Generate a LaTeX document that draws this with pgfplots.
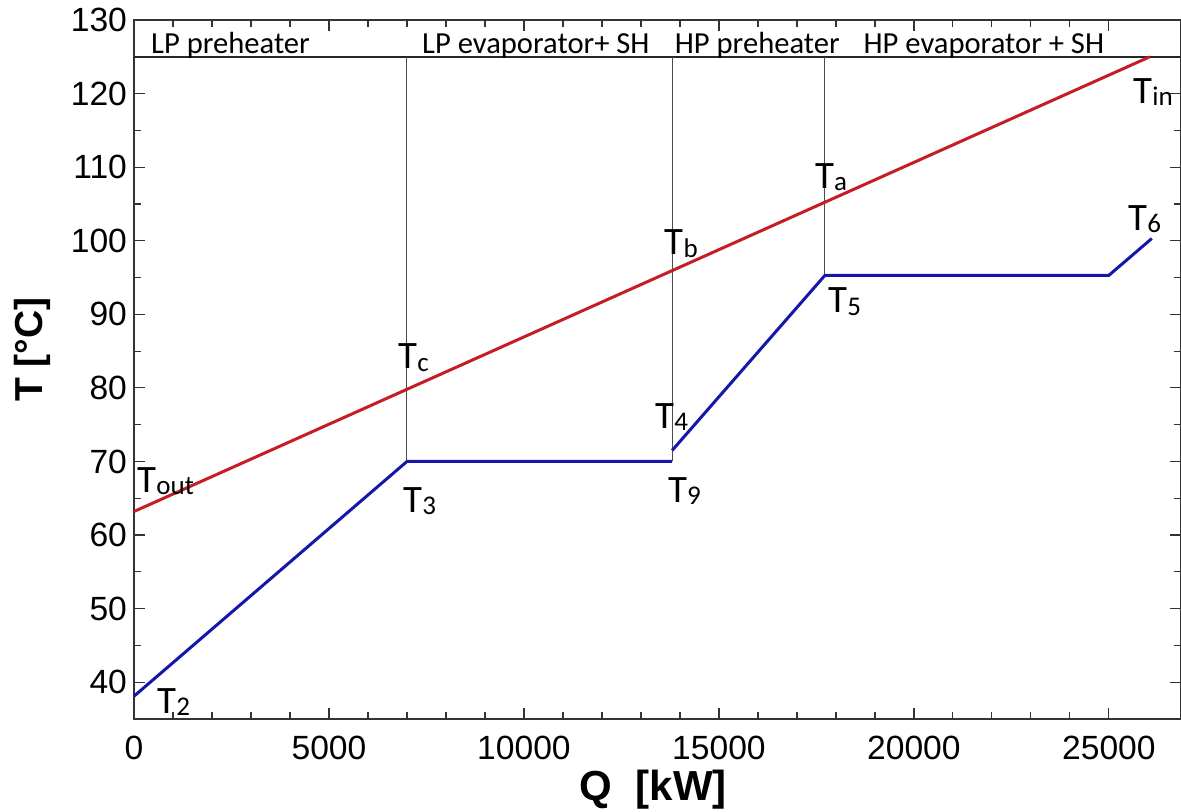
\documentclass[border=0pt]{standalone}
\usepackage{pgfplots}
\pgfplotsset{compat=1.18}
\usepackage{fontspec}
\setmainfont{Liberation Sans}
\newfontfamily\carl{Carlito}
\definecolor{redl}{RGB}{196,30,36}
\definecolor{bluel}{RGB}{22,22,170}
\newcommand\Tl[1]{{\carl\fontsize{19.4}{20}\selectfont T\raisebox{-0.06em}{\fontsize{13.5}{15}\selectfont #1}}}
\begin{document}
\begin{tikzpicture}
\begin{axis}[name=ax, scale only axis, width=523.5pt, height=349.5pt,
  xmin=0, xmax=26850, ymin=35, ymax=130,
  xtick={0,5000,...,25000}, ytick={40,50,...,130},
  minor x tick num=4, minor y tick num=1,
  axis line style={line width=0.75pt, black!80},
  major tick length=5.5pt, minor tick length=3.5pt,
  every tick/.style={black!80, line width=0.6pt},
  tick label style={font=\fontsize{16.8}{18}\selectfont},
  /pgf/number format/assume math mode=true,
  scaled x ticks=false,
  x tick label style={/pgf/number format/1000 sep={}, yshift=-5pt},
  xlabel={Q\ \ [kW]}, ylabel={T [°C]},
  label style={font=\fontsize{21}{22}\selectfont\bfseries},
  xlabel style={at={(axis description cs:0.496,-0.1159)}, anchor=base},
  ylabel style={at={(axis description cs:-0.0974,0.5286)}, anchor=center, font=\fontsize{19.5}{22}\selectfont\bfseries},
  clip=false,
]
% section boundaries
\addplot[black!85, line width=1pt] coordinates {(0,125) (26850,125)};
\addplot[black!70, line width=0.5pt] coordinates {(7000,125) (7000,70)};
\addplot[black!70, line width=0.5pt] coordinates {(13800,125) (13800,70)};
\addplot[black!70, line width=0.5pt] coordinates {(17720,125) (17720,95.3)};
% hot stream
\addplot[redl, line width=1.5pt] coordinates {(0,63.2) (26050,125)};
% cold stream
\addplot[bluel, line width=1.5pt] coordinates {(0,38.1) (7000,70) (13800,70)};
\addplot[bluel, line width=1.5pt] coordinates {(13800,71.5) (17720,95.3) (25000,95.3) (26100,100.3)};
% section labels
\begin{scope}[every node/.style={anchor=base west, inner sep=0pt, font=\carl\fontsize{15.3}{16}\selectfont}]
\node at (axis cs:430,125.44) {LP preheater};
\node at (axis cs:7380,125.44) {LP evaporator+ SH};
\node at (axis cs:13860,125.44) {HP preheater};
\node at (axis cs:18700,125.44) {HP evaporator + SH};
\end{scope}
% point labels
\begin{scope}[every node/.style={anchor=west, inner sep=0pt}]
\node at (axis cs:80,67.3) {\Tl{out}};
\node at (axis cs:590,37.3) {\Tl{2}};
\node at (axis cs:6770,84.1) {\Tl{c}};
\node at (axis cs:6900,64.6) {\Tl{3}};
\node at (axis cs:13600,99.6) {\Tl{b}};
\node at (axis cs:13360,76.0) {\Tl{4}};
\node at (axis cs:13690,66.0) {\Tl{9}};
\node at (axis cs:17460,108.6) {\Tl{a}};
\node at (axis cs:17800,91.7) {\Tl{5}};
\node at (axis cs:25490,102.9) {\Tl{6}};
\node at (axis cs:25620,120.2) {\Tl{in}};
\end{scope}
\end{axis}
\pgfresetboundingbox
\path ([shift={(-67pt,-46.5pt)}]ax.south west) rectangle ([shift={(0pt,10pt)}]ax.north east);
\end{tikzpicture}
\end{document}
